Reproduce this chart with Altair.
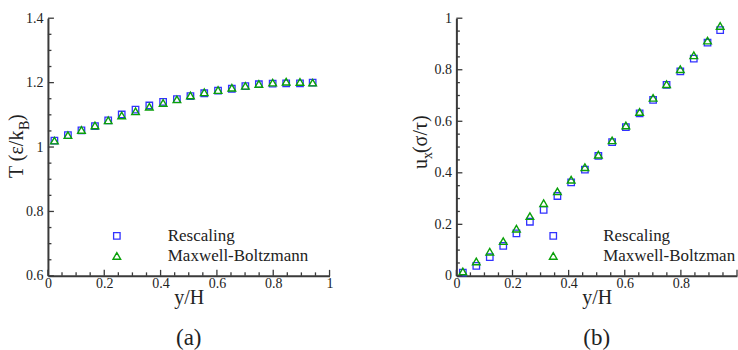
import altair as alt
import pandas as pd

# ---------------- data ----------------
y_over_H = [0.023, 0.071, 0.119, 0.167, 0.214, 0.262, 0.311, 0.360, 0.409, 0.458,
            0.506, 0.555, 0.604, 0.653, 0.701, 0.749, 0.798, 0.846, 0.895, 0.940]

T_rescaling = [1.020, 1.037, 1.052, 1.065, 1.083, 1.101, 1.116, 1.129, 1.140, 1.149,
               1.158, 1.167, 1.175, 1.181, 1.189, 1.195, 1.197, 1.198, 1.198, 1.200]
T_maxwell = [1.020, 1.037, 1.053, 1.067, 1.083, 1.098, 1.111, 1.125, 1.137, 1.148,
             1.160, 1.170, 1.177, 1.184, 1.190, 1.196, 1.200, 1.203, 1.202, 1.200]

u_rescaling = [0.013, 0.039, 0.073, 0.116, 0.165, 0.210, 0.256, 0.310, 0.363, 0.412,
               0.466, 0.519, 0.577, 0.631, 0.683, 0.741, 0.794, 0.843, 0.905, 0.954]
u_maxwell = [0.017, 0.056, 0.094, 0.135, 0.183, 0.232, 0.282, 0.328, 0.373, 0.422,
             0.470, 0.526, 0.584, 0.636, 0.691, 0.744, 0.802, 0.856, 0.913, 0.970]

series_names = ["Rescaling", "Maxwell-Boltzmann"]

x_major = [0, 0.2, 0.4, 0.6, 0.8, 1.0]
x_minor = [0.05, 0.1, 0.15, 0.25, 0.3, 0.35, 0.45, 0.5, 0.55, 0.65, 0.7, 0.75, 0.85, 0.9, 0.95]
x_labels_a = [0, 0.2, 0.4, 0.6, 0.8, 1.0]
x_labels_b = [0, 0.2, 0.4, 0.6, 0.8]

T_major = [0.6, 0.8, 1.0, 1.2, 1.4]
T_minor = [0.65, 0.7, 0.75, 0.85, 0.9, 0.95, 1.05, 1.1, 1.15, 1.25, 1.3, 1.35]
u_major = [0, 0.2, 0.4, 0.6, 0.8, 1.0]
u_minor = [0.05, 0.1, 0.15, 0.25, 0.3, 0.35, 0.45, 0.5, 0.55, 0.65, 0.7, 0.75, 0.85, 0.9, 0.95]

# ---------------- style ----------------
SERIF = "Liberation Serif"
AX = "#3a3a3a"
BLUE = "#3232ff"
GREEN = "#0aa00a"
H = 258


def panel(W, ydomain, yres, ymb, ymaj, ymin, xlabels, title_parts, caption, leg):
    xs = alt.Scale(domain=[0, 1], nice=False, zero=False)
    ys = alt.Scale(domain=ydomain, nice=False, zero=False)
    xaxis = alt.Axis(values=xlabels, format="~g", ticks=False, grid=False,
                     domainColor=AX, domainWidth=2, labelFont=SERIF, labelFontSize=14,
                     labelColor="#222", labelPadding=1, title="y/H", titleFont=SERIF,
                     titleFontSize=20, titleFontWeight="normal", titleColor="#222",
                     titlePadding=-3, labelFlush=False)
    yaxis = alt.Axis(values=ymaj, format="~g", ticks=False, grid=False,
                     domainColor=AX, domainWidth=2, labelFont=SERIF, labelFontSize=14,
                     labelColor="#222", labelPadding=5, title=None, labelFlush=False)
    X = lambda: alt.X("x:Q", scale=xs, axis=xaxis)
    Y = lambda: alt.Y("y:Q", scale=ys, axis=yaxis)

    d_res = pd.DataFrame({"x": y_over_H, "y": yres})
    d_mb = pd.DataFrame({"x": y_over_H, "y": ymb})

    sq = alt.Chart(d_res).mark_point(shape="square", filled=False, color=BLUE,
                                     size=42, strokeWidth=1.3, opacity=1).encode(x=X(), y=Y())
    tr = alt.Chart(d_mb).mark_point(shape="triangle-up", filled=False, color=GREEN,
                                    size=58, strokeWidth=1.4, opacity=1).encode(x=X(), y=Y())

    def yt(vals, ln):
        return alt.Chart(pd.DataFrame({"y": vals})).mark_rule(color=AX, strokeWidth=1.3).encode(
            y=Y(), x=alt.value(0), x2=alt.value(ln))

    def xt(vals, ln):
        return alt.Chart(pd.DataFrame({"x": vals})).mark_rule(color=AX, strokeWidth=1.3).encode(
            x=X(), y=alt.value(H), y2=alt.value(H - ln))

    lx, ltx, ly1, ly2 = leg
    leg_sq = alt.Chart(pd.DataFrame({"n": [series_names[0]]})).mark_point(
        shape="square", filled=False, color=BLUE, size=42, strokeWidth=1.3, opacity=1).encode(
        x=alt.value(lx), y=alt.value(ly1))
    leg_tr = alt.Chart(pd.DataFrame({"n": [series_names[1]]})).mark_point(
        shape="triangle-up", filled=False, color=GREEN, size=58, strokeWidth=1.4, opacity=1).encode(
        x=alt.value(lx), y=alt.value(ly2))
    leg_t1 = alt.Chart(pd.DataFrame({"n": [series_names[0]]})).mark_text(
        align="left", baseline="middle", font=SERIF, fontSize=17, color="#222",
        limit=W - ltx + 2, ellipsis="\u200b").encode(x=alt.value(ltx), y=alt.value(ly1), text="n:N")
    leg_t2 = alt.Chart(pd.DataFrame({"n": [series_names[1]]})).mark_text(
        align="left", baseline="middle", font=SERIF, fontSize=17, color="#222",
        limit=W - ltx + 2, ellipsis="\u200b").encode(x=alt.value(ltx), y=alt.value(ly2), text="n:N")

    ttl = []
    for txt, fs, px, py in title_parts:
        ttl.append(alt.Chart(pd.DataFrame({"t": [txt]})).mark_text(
            align="left", baseline="alphabetic", angle=270, font=SERIF, fontSize=fs,
            color="#222").encode(x=alt.value(px), y=alt.value(py), text="t:N"))

    cap = alt.Chart(pd.DataFrame({"t": [caption]})).mark_text(
        align="center", baseline="middle", font=SERIF, fontSize=23, color="#222").encode(
        x=alt.value(W / 2), y=alt.value(H + 62), text="t:N")

    layers = [sq, tr, yt(ymaj, 6), yt(ymin, 3.5), xt(x_major, 6), xt(x_minor, 3.5),
              leg_sq, leg_tr, leg_t1, leg_t2, cap] + ttl
    return alt.layer(*layers).properties(width=W, height=H)


left = panel(282, [0.6, 1.4], T_rescaling, T_maxwell, T_major, T_minor, x_labels_a,
             [("T (ε/k", 20, -25, 160), ("B", 14, -19, 112), (")", 20, -25, 103)],
             "(a)", (69, 120, 218, 238))
right = panel(281, [0, 1], u_rescaling, u_maxwell, u_major, u_minor, x_labels_b,
              [("u", 20, -29, 151), ("x", 14, -24, 141), ("(σ/τ)", 20, -29, 135)],
              "(b)", (97, 147, 218, 238))

chart = alt.hconcat(left, right, spacing=78).properties(
    padding={"left": 7, "top": 11, "right": 0, "bottom": 0}
).configure_view(stroke=None).configure_axis(labelFont=SERIF, titleFont=SERIF)

chart.save("out.html", embed_options={"renderer": "svg", "actions": False})
